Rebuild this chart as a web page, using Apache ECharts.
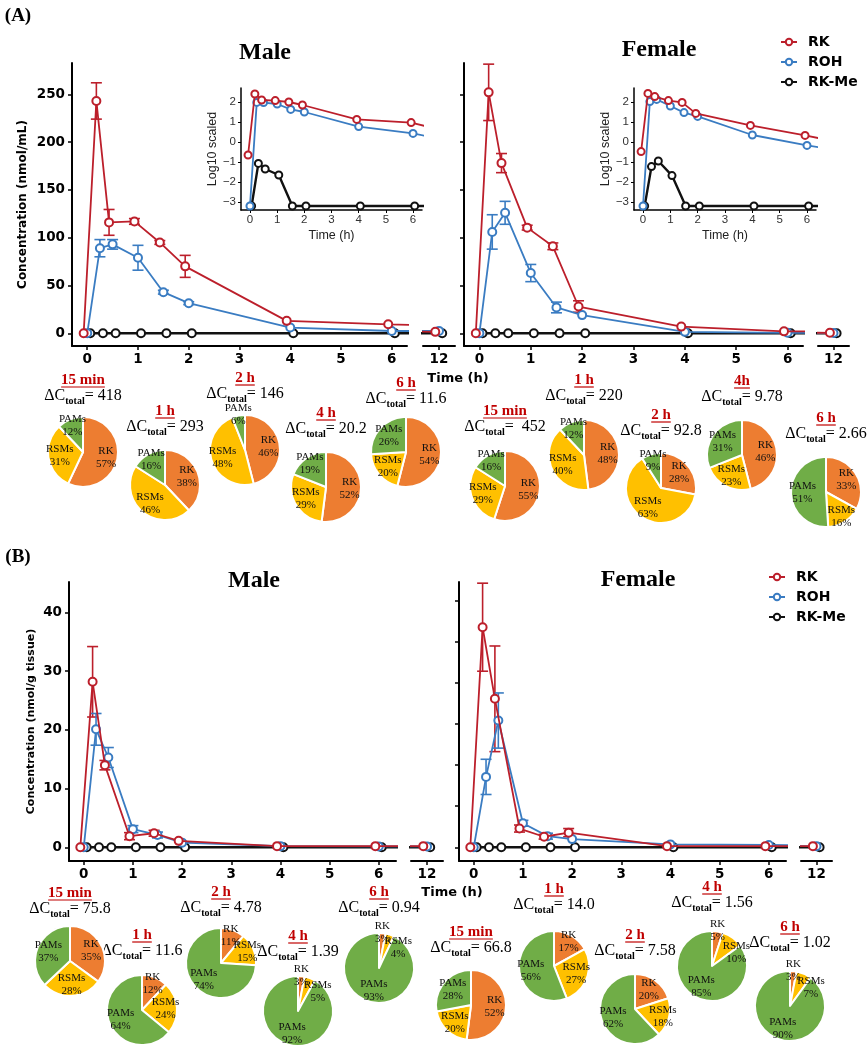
<!DOCTYPE html>
<html>
<head>
<meta charset="utf-8">
<script src="https://cdn.jsdelivr.net/npm/echarts@6/dist/echarts.min.js"></script>
<style>
  html, body { margin: 0; padding: 0; background: #fff; }
  #chart { width: 868px; height: 1050px; }
</style>
</head>
<body>
<div id="chart"></div>
<script>
// Plasma (A) and tissue (B) kinetics with metabolite pies (RK / RSMs / PAMs).

const TIMES = [0, 0.25, 0.5, 1, 1.5, 2, 4, 6, 12];
const LEGEND_NAMES = ["RK", "ROH", "RK-Me"];

// (A) plasma, nmol/mL: mean and SD
const A_MALE_RK = [0, 243, 116, 117, 95, 70, 13, 9.4, 1.5];
const A_MALE_RK_SD = [0, 19, 13.5, 3, 2, 11.5, 0, 0, 0];
const A_MALE_ROH = [0, 89, 93, 79, 43, 31.5, 6, 2.4, 2.5];
const A_MALE_ROH_SD = [0, 9, 5, 13, 2, 1.5, 0, 0, 0];
const A_MALE_RKME = [0, 0, 0, 0, 0, 0, 0, 0, 0];
const A_FEMALE_RK = [0, 252, 178, 110.5, 91, 28, 7, 2, 0.5];
const A_FEMALE_RK_SD = [0, 29.5, 10, 2.5, 3.5, 6, 0, 0, 0];
const A_FEMALE_ROH = [0, 106, 126, 63, 27, 19, 1.5, 0.5, 0.3];
const A_FEMALE_ROH_SD = [0, 18, 12, 9, 5.6, 0, 0, 0, 0];
const A_FEMALE_RKME = [0, 0, 0, 0, 0, 0, 0, 0, 0];

// (A) insets, log10 scaled
const A_MALE_LOG_RK = [-0.65, 2.4, 2.1, 2.07, 2.0, 1.85, 1.13, 0.97, -1.0];
const A_MALE_LOG_ROH = [-3.2, 1.98, 1.97, 1.9, 1.63, 1.5, 0.77, 0.43, -1.2];
const A_MALE_LOG_RKME = [-3.2, -1.07, -1.35, -1.65, -3.2, -3.2, -3.2, -3.2, -3.2];
const A_FEMALE_LOG_RK = [-0.48, 2.43, 2.27, 2.07, 1.98, 1.43, 0.83, 0.33, -1.3];
const A_FEMALE_LOG_ROH = [-3.2, 2.02, 2.13, 1.8, 1.47, 1.28, 0.35, -0.17, -1.4];
const A_FEMALE_LOG_RKME = [-3.2, -1.23, -0.95, -1.68, -3.2, -3.2, -3.2, -3.2, -3.2];

// (B) tissue, nmol/g tissue: mean and SD
const B_MALE_RK = [0, 28.2, 14.0, 1.9, 2.4, 1.1, 0.2, 0.2, 0.2];
const B_MALE_RK_SD = [0, 6, 0.8, 0.6, 0.5, 0, 0, 0, 0];
const B_MALE_ROH = [0, 20.1, 15.3, 3.1, 2.1, 0.8, 0.2, 0.15, 0.15];
const B_MALE_ROH_SD = [0, 2.7, 1.7, 0.6, 0.5, 0, 0, 0, 0];
const B_MALE_RKME = [0, 0, 0, 0, 0, 0, 0, 0, 0];
const B_FEMALE_RK = [0, 37.5, 25.3, 3.2, 1.8, 2.5, 0.2, 0.2, 0.2];
const B_FEMALE_RK_SD = [0, 7.5, 9, 0.6, 0.4, 0.7, 0, 0, 0];
const B_FEMALE_ROH = [0, 12.0, 21.6, 4.1, 1.9, 1.4, 0.5, 0.4, 0.2];
const B_FEMALE_ROH_SD = [0, 3, 4.7, 0.5, 0.5, 0, 0, 0, 0];
const B_FEMALE_RKME = [0, 0, 0, 0, 0, 0, 0, 0, 0];

// tick labels
const MAIN_X_TICKS = [0, 1, 2, 3, 4, 5, 6];
const BREAK_X_TICKS = [12];
const A_Y_TICKS = [0, 50, 100, 150, 200, 250];
const B_Y_TICKS = [0, 10, 20, 30, 40];
const B_FEMALE_Y_TICKS = [0, 7, 14, 21, 28, 35, 42];
const INSET_Y_TICKS = [-3, -2, -1, 0, 1, 2];

// pies: share of RK / RSMs / PAMs (%)
const PIE_PARTS = ["RK", "RSMs", "PAMs"];
const A_MALE_PIE_TIME = ["15 min", "1 h", "2 h", "4 h", "6 h"];
const A_MALE_PIE_TOTAL = ["= 418", "= 293", "= 146", "= 20.2", "= 11.6"];
const A_MALE_PIE_PCT = [[57, 31, 12], [38, 46, 16], [46, 48, 6], [52, 29, 19], [54, 20, 26]];
const A_FEMALE_PIE_TIME = ["15 min", "1 h", "2 h", "4h", "6 h"];
const A_FEMALE_PIE_TOTAL = ["=  452", "= 220", "= 92.8", "= 9.78", "= 2.66"];
const A_FEMALE_PIE_PCT = [[55, 29, 16], [48, 40, 12], [28, 63, 9], [46, 23, 31], [33, 16, 51]];
const B_MALE_PIE_TIME = ["15 min", "1 h", "2 h", "4 h", "6 h"];
const B_MALE_PIE_TOTAL = ["= 75.8", "= 11.6", "= 4.78", "= 1.39", "= 0.94"];
const B_MALE_PIE_PCT = [[35, 28, 37], [12, 24, 64], [11, 15, 74], [3, 5, 92], [3, 4, 93]];
const B_FEMALE_PIE_TIME = ["15 min", "1 h", "2 h", "4 h", "6 h"];
const B_FEMALE_PIE_TOTAL = ["= 66.8", "= 14.0", "= 7.58", "= 1.56", "= 1.02"];
const B_FEMALE_PIE_PCT = [[52, 20, 28], [17, 27, 56], [20, 18, 62], [5, 10, 85], [3, 7, 90]];

// ---- styling / layout ----
const RED = "#BC1F2B";
const BLUE = "#3A7CC2";
const BLACK = "#111111";
const COLORS = { RK: RED, ROH: BLUE, "RK-Me": BLACK };
const DODGE = { RK: -0.07, ROH: 0, "RK-Me": 0.06 };
const PIE_COLORS = ["#ED7D31", "#FFC000", "#70AD47"];
const SERIF = "Liberation Serif";
const SANS = "DejaVu Sans";
const PIE_R = 35;

// [cx, cy, caption y]
const A_MALE_PIE_POS = [[83, 452, 380], [165, 485, 411], [245, 450, 378], [326, 487, 413], [406, 452, 383]];
const A_FEMALE_PIE_POS = [[505, 486, 411], [584, 455, 380], [661, 488, 415], [742, 455, 381], [826, 492, 418]];
const B_MALE_PIE_POS = [[70, 961, 893], [142, 1010, 935], [221, 963, 892], [298, 1011, 936], [379, 968, 892]];
const B_FEMALE_PIE_POS = [[471, 1005, 932], [554, 966, 889], [635, 1009, 935], [712, 966, 887], [790, 1006, 927]];

const grids = [];
const xAxes = [];
const yAxes = [];
const series = [];
const graphic = [];

const boldTick = { fontFamily: SANS, fontWeight: "bold", fontSize: 13.5, color: "#000" };
const minus = (v) => String(v).replace("-", "\u2212");

function addGrid(rect, xAxis, yAxis) {
  grids.push(Object.assign({ containLabel: false }, rect));
  const i = grids.length - 1;
  xAxes.push(Object.assign({ gridIndex: i, type: "value" }, xAxis));
  yAxes.push(Object.assign({ gridIndex: i, type: "value" }, yAxis));
  return i;
}

function mainX(min, max, ticks) {
  return {
    min, max,
    axisLine: { onZero: false, lineStyle: { color: "#000", width: 2 } },
    axisTick: { customValues: ticks, length: 4, lineStyle: { color: "#000", width: 1.5 } },
    axisLabel: Object.assign({ customValues: ticks, margin: 6 }, boldTick),
    splitLine: { show: false },
  };
}

function mainY(min, max, ticks, labels, name, nameGap, nameSize) {
  return {
    min, max,
    name, nameLocation: "middle", nameGap,
    nameTextStyle: { fontFamily: SANS, fontWeight: "bold", fontSize: nameSize, color: "#000" },
    axisLine: { onZero: false, lineStyle: { color: "#000", width: 2 } },
    axisTick: { customValues: ticks, length: 4, lineStyle: { color: "#000", width: 1.5 } },
    axisLabel: Object.assign({ show: labels, customValues: ticks, margin: 7 }, boldTick),
    splitLine: { show: false },
  };
}

function hiddenY(min, max) {
  return { min, max, show: false, splitLine: { show: false } };
}

function insetX() {
  return {
    min: -0.33, max: 6.33,
    name: "Time (h)", nameLocation: "middle", nameGap: 19,
    nameTextStyle: { fontFamily: "Liberation Sans", fontSize: 12.5, color: "#222" },
    axisLine: { onZero: false, lineStyle: { color: "#000", width: 1.5 } },
    axisTick: { customValues: MAIN_X_TICKS, length: 3, lineStyle: { color: "#000" } },
    axisLabel: { customValues: MAIN_X_TICKS, margin: 4, fontFamily: "Liberation Sans", fontSize: 11.5, color: "#333" },
    splitLine: { show: false },
  };
}

function insetY() {
  return {
    min: -3.4, max: 2.7,
    name: "Log10 scaled", nameLocation: "middle", nameGap: 20,
    nameTextStyle: { fontFamily: "Liberation Sans", fontSize: 12.5, color: "#222" },
    axisLine: { onZero: false, lineStyle: { color: "#000", width: 1.5 } },
    axisTick: { customValues: INSET_Y_TICKS, length: 3, lineStyle: { color: "#000" } },
    axisLabel: {
      customValues: INSET_Y_TICKS, margin: 5, formatter: minus,
      fontFamily: "Liberation Sans", fontSize: 11.5, color: "#333",
    },
    splitLine: { show: false },
  };
}

function addLine(gi, name, values, size) {
  series.push({
    type: "line",
    name,
    xAxisIndex: gi,
    yAxisIndex: gi,
    data: TIMES.map((t, i) => [t + DODGE[name], values[i]]),
    symbol: "emptyCircle",
    symbolSize: size,
    itemStyle: { color: COLORS[name], borderWidth: 1.3 },
    lineStyle: { color: COLORS[name], width: name === "RK-Me" ? 2.4 : 1.8 },
    clip: true,
    silent: true,
    z: name === "RK-Me" ? 3 : name === "ROH" ? 4 : 5,
  });
}

function addErrors(gi, name, mean, sd) {
  const data = [];
  TIMES.forEach((t, i) => {
    if (sd[i] > 0) data.push([t + DODGE[name], mean[i] - sd[i], mean[i] + sd[i]]);
  });
  const color = COLORS[name];
  series.push({
    type: "custom",
    xAxisIndex: gi,
    yAxisIndex: gi,
    data,
    silent: true,
    z: 2,
    encode: { x: 0, y: [1, 2] },
    renderItem(params, api) {
      const lo = api.coord([api.value(0), api.value(1)]);
      const hi = api.coord([api.value(0), api.value(2)]);
      const cap = 5.5;
      const st = { stroke: color, lineWidth: 1.6 };
      return {
        type: "group",
        children: [
          { type: "line", shape: { x1: lo[0], y1: lo[1], x2: hi[0], y2: hi[1] }, style: st },
          { type: "line", shape: { x1: hi[0] - cap, y1: hi[1], x2: hi[0] + cap, y2: hi[1] }, style: st },
          { type: "line", shape: { x1: lo[0] - cap, y1: lo[1], x2: lo[0] + cap, y2: lo[1] }, style: st },
        ],
      };
    },
  });
}

function addPanel(mainIdx, brkIdx, rk, rkSd, roh, rohSd, rkme) {
  addErrors(mainIdx, "RK", rk, rkSd);
  addErrors(mainIdx, "ROH", roh, rohSd);
  [mainIdx, brkIdx].forEach((gi) => {
    addLine(gi, "RK-Me", rkme, 8);
    addLine(gi, "ROH", roh, 8);
    addLine(gi, "RK", rk, 8);
  });
}

function addInset(gi, rk, roh, rkme) {
  addLine(gi, "RK-Me", rkme, 7);
  addLine(gi, "ROH", roh, 7);
  addLine(gi, "RK", rk, 7);
}

// ---- panel A ----
const A_YMIN = -13.3, A_YMAX = 282.7;
const aMale = addGrid({ left: 72, top: 63, width: 335, height: 283 },
  mainX(-0.3, 6.3, MAIN_X_TICKS),
  mainY(A_YMIN, A_YMAX, A_Y_TICKS, true, "Concentration (nmol/mL)", 43, 12));
const aMaleBrk = addGrid({ left: 423, top: 63, width: 32, height: 283 },
  mainX(11.7, 12.3, BREAK_X_TICKS), hiddenY(A_YMIN, A_YMAX));
const aFemale = addGrid({ left: 464, top: 63, width: 339, height: 283 },
  mainX(-0.3, 6.3, MAIN_X_TICKS),
  mainY(A_YMIN, A_YMAX, A_Y_TICKS, false, "", 0, 12));
const aFemaleBrk = addGrid({ left: 818, top: 63, width: 31, height: 283 },
  mainX(11.7, 12.3, BREAK_X_TICKS), hiddenY(A_YMIN, A_YMAX));
const aMaleInset = addGrid({ left: 241, top: 88, width: 181, height: 122 }, insetX(), insetY());
const aFemaleInset = addGrid({ left: 634, top: 88, width: 182, height: 122 }, insetX(), insetY());

// ---- panel B ----
const B_YMIN = -2.33, B_YMAX = 45.2;
const bMale = addGrid({ left: 69, top: 582, width: 327, height: 279 },
  mainX(-0.3, 6.35, MAIN_X_TICKS),
  mainY(B_YMIN, B_YMAX, B_Y_TICKS, true, "Concentration (nmol/g tissue)", 32, 11));
const bMaleBrk = addGrid({ left: 411, top: 582, width: 32, height: 279 },
  mainX(11.7, 12.3, BREAK_X_TICKS), hiddenY(B_YMIN, B_YMAX));
const bFemale = addGrid({ left: 459, top: 582, width: 327, height: 279 },
  mainX(-0.3, 6.35, MAIN_X_TICKS),
  mainY(B_YMIN, B_YMAX, B_FEMALE_Y_TICKS, false, "", 0, 11));
const bFemaleBrk = addGrid({ left: 801, top: 582, width: 31, height: 279 },
  mainX(11.7, 12.3, BREAK_X_TICKS), hiddenY(B_YMIN, B_YMAX));

addPanel(aMale, aMaleBrk, A_MALE_RK, A_MALE_RK_SD, A_MALE_ROH, A_MALE_ROH_SD, A_MALE_RKME);
addPanel(aFemale, aFemaleBrk, A_FEMALE_RK, A_FEMALE_RK_SD, A_FEMALE_ROH, A_FEMALE_ROH_SD, A_FEMALE_RKME);
addInset(aMaleInset, A_MALE_LOG_RK, A_MALE_LOG_ROH, A_MALE_LOG_RKME);
addInset(aFemaleInset, A_FEMALE_LOG_RK, A_FEMALE_LOG_ROH, A_FEMALE_LOG_RKME);
addPanel(bMale, bMaleBrk, B_MALE_RK, B_MALE_RK_SD, B_MALE_ROH, B_MALE_ROH_SD, B_MALE_RKME);
addPanel(bFemale, bFemaleBrk, B_FEMALE_RK, B_FEMALE_RK_SD, B_FEMALE_ROH, B_FEMALE_ROH_SD, B_FEMALE_RKME);

// ---- texts ----
const measureCtx = document.createElement("canvas").getContext("2d");
function textWidth(text, font) {
  measureCtx.font = font;
  return measureCtx.measureText(text).width;
}

function addText(x, y, text, style) {
  graphic.push({
    type: "text", x, y, silent: true,
    style: Object.assign({
      text, align: "center", verticalAlign: "middle",
      textAlign: "center", textVerticalAlign: "middle", fill: "#000",
    }, style),
  });
}

addText(18, 16, "(A)", { fontFamily: SERIF, fontWeight: "bold", fontSize: 19 });
addText(18, 557, "(B)", { fontFamily: SERIF, fontWeight: "bold", fontSize: 19 });
const titleFont = { fontFamily: SERIF, fontWeight: "bold", fontSize: 24 };
addText(265, 53, "Male", titleFont);
addText(659, 50, "Female", titleFont);
addText(254, 581, "Male", titleFont);
addText(638, 580, "Female", titleFont);
addText(458, 379, "Time (h)", { fontFamily: SANS, fontWeight: "bold", fontSize: 13 });
addText(452, 893, "Time (h)", { fontFamily: SANS, fontWeight: "bold", fontSize: 13 });

// pushes small-slice labels outwards (and turns a thin second slice's label away from the first)
function pieLabelLayout(cx, cy, pcts) {
  return (params) => {
    const r = params.labelRect;
    const dx = r.x + r.width / 2 - cx;
    const dy = r.y + r.height / 2 - cy;
    const p = pcts[params.dataIndex];
    let k = p < 8 ? 1.75 : p < 20 ? 1.4 : 1.15;
    let ang = Math.atan2(dy, dx);
    if (params.dataIndex === 1 && pcts[0] < 8) {
      ang += 0.45;
      k = 1.35;
    }
    const d = Math.sqrt(dx * dx + dy * dy) * k;
    return { x: cx + d * Math.cos(ang), y: cy + d * Math.sin(ang) };
  };
}

function addPieGroup(pos, times, totals, pcts, tag) {
  pos.forEach(([cx, cy, ty], k) => {
    const time = times[k];
    addText(cx, ty, time, { fontFamily: SERIF, fontWeight: "bold", fontSize: 15, fill: "#C00000" });
    const w = textWidth(time, `bold 15px "${SERIF}"`);
    graphic.push({
      type: "line", silent: true,
      shape: { x1: cx - w / 2, y1: ty + 7, x2: cx + w / 2, y2: ty + 7 },
      style: { stroke: "#C00000", lineWidth: 1.2 },
    });
    graphic.push({
      type: "text", x: cx, y: ty + 16, silent: true,
      style: {
        text: `{a|ΔC}{s|total}{a|${totals[k]}}`,
        align: "center", verticalAlign: "middle",
        textAlign: "center", textVerticalAlign: "middle",
        rich: {
          a: { fontFamily: SERIF, fontSize: 16, fill: "#000" },
          s: { fontFamily: SERIF, fontSize: 10, fontWeight: "bold", fill: "#000", padding: [10, 0, 0, 0] },
        },
      },
    });
    series.push({
      type: "pie",
      name: `${tag}-${k}`,
      center: [cx, cy],
      radius: PIE_R,
      startAngle: 90,
      clockwise: true,
      silent: true,
      avoidLabelOverlap: false,
      z: 6,
      data: PIE_PARTS.map((p, j) => ({ name: p, value: pcts[k][j], itemStyle: { color: PIE_COLORS[j] } })),
      itemStyle: { borderColor: "#fff", borderWidth: 2 },
      label: {
        position: "inside",
        formatter: "{b}\n{c}%",
        fontFamily: SERIF,
        fontSize: 11,
        lineHeight: 13,
        color: "#111",
      },
      labelLine: { show: false },
      labelLayout: pieLabelLayout(cx, cy, pcts[k]),
      emphasis: { disabled: true },
    });
  });
}

addPieGroup(A_MALE_PIE_POS, A_MALE_PIE_TIME, A_MALE_PIE_TOTAL, A_MALE_PIE_PCT, "am");
addPieGroup(A_FEMALE_PIE_POS, A_FEMALE_PIE_TIME, A_FEMALE_PIE_TOTAL, A_FEMALE_PIE_PCT, "af");
addPieGroup(B_MALE_PIE_POS, B_MALE_PIE_TIME, B_MALE_PIE_TOTAL, B_MALE_PIE_PCT, "bm");
addPieGroup(B_FEMALE_PIE_POS, B_FEMALE_PIE_TIME, B_FEMALE_PIE_TOTAL, B_FEMALE_PIE_PCT, "bf");

const legendBase = {
  data: LEGEND_NAMES,
  orient: "vertical",
  selectedMode: false,
  itemWidth: 16,
  itemHeight: 8,
  itemGap: 6,
  textStyle: { fontFamily: SANS, fontWeight: "bold", fontSize: 14, color: "#000", padding: [0, 0, 0, 6] },
};

const chart = echarts.init(document.getElementById("chart"), null, { renderer: "canvas" });
chart.setOption({
  animation: false,
  backgroundColor: "#fff",
  textStyle: { fontFamily: SANS },
  legend: [
    Object.assign({ left: 775, top: 30 }, legendBase),
    Object.assign({ left: 763, top: 565 }, legendBase),
  ],
  grid: grids,
  xAxis: xAxes,
  yAxis: yAxes,
  series,
  graphic,
});
</script>
</body>
</html>
